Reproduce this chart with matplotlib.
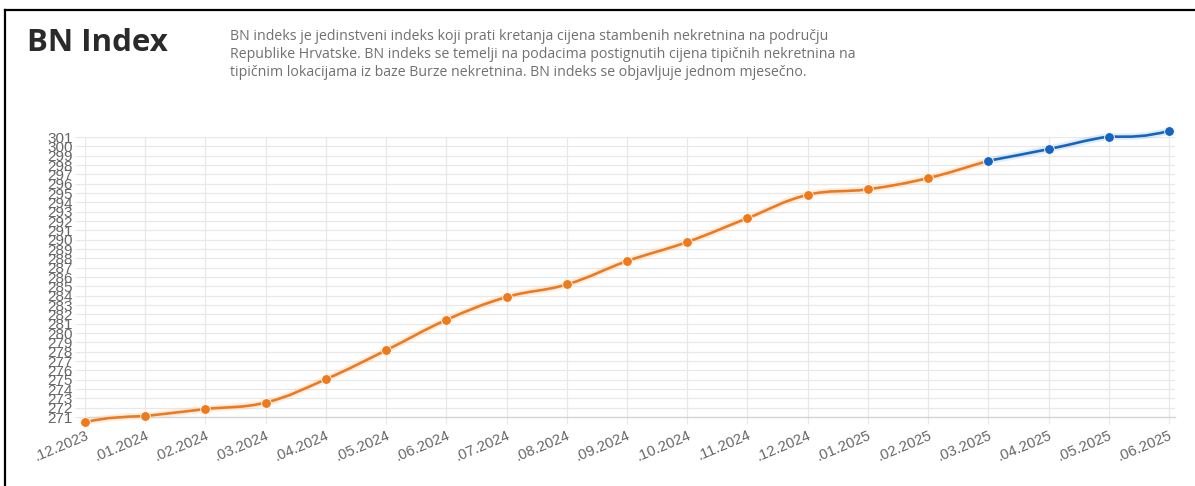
import numpy as np
import matplotlib
matplotlib.use("Agg")
import matplotlib.pyplot as plt
from matplotlib.path import Path
from matplotlib.patches import PathPatch
from matplotlib.lines import Line2D

# data
month_labels = [".12.2023", ".01.2024", ".02.2024", ".03.2024", ".04.2024", ".05.2024",
                ".06.2024", ".07.2024", ".08.2024", ".09.2024", ".10.2024", ".11.2024",
                ".12.2024", ".01.2025", ".02.2025", ".03.2025", ".04.2025", ".05.2025",
                ".06.2025"]
orange_values = [270.45, 271.1, 271.85, 272.55, 275.05, 278.15, 281.4, 283.85, 285.2,
                 287.7, 289.75, 292.3, 294.8, 295.4, 296.6, 298.45]
blue_values = [298.45, 299.7, 301.05, 301.65]
blue_start = 15

y_ticks = list(range(271, 302))

title_text = "BN Index"
desc_lines = [
    "BN indeks je jedinstveni indeks koji prati kretanja cijena stambenih nekretnina na području",
    "Republike Hrvatske. BN indeks se temelji na podacima postignutih cijena tipičnih nekretnina na",
    "tipičnim lokacijama iz baze Burze nekretnina. BN indeks se objavljuje jednom mjesečno.",
]

ORANGE = "#ef7a1c"
BLUE = "#1565c0"
GRID = "#e8e8e8"
TICKC = "#666666"

W, H = 1195, 486
fig = plt.figure(figsize=(W / 100, H / 100), dpi=100)
fig.patch.set_facecolor("white")

left, right = 85, 1175
top, bottom = 137, 417
ax = fig.add_axes([left / W, 1 - bottom / H, (right - left) / W, (bottom - top) / H])
ax.set_xlim(0, 18 + 6 / 60.2)
ax.set_ylim(271, 301)


def spline_path(xs, ys, tension=0.4):
    # Chart.js style bezier through the points, computed in pixel space
    pts = ax.transData.transform(np.column_stack([xs, ys]))
    ylo, yhi = ax.transData.transform([[0, 271], [0, 301]])[:, 1]
    n = len(pts)
    cp1 = pts.copy()
    cp2 = pts.copy()
    for i in range(n):
        prev = pts[i - 1] if i > 0 else pts[i]
        nxt = pts[i + 1] if i < n - 1 else pts[i]
        d01 = np.hypot(*(pts[i] - prev))
        d12 = np.hypot(*(nxt - pts[i]))
        s = d01 + d12
        s01 = d01 / s if s else 0
        s12 = d12 / s if s else 0
        cp1[i] = pts[i] - tension * s01 * (nxt - prev)
        cp2[i] = pts[i] + tension * s12 * (nxt - prev)
    cp1[:, 1] = np.clip(cp1[:, 1], ylo, yhi)
    cp2[:, 1] = np.clip(cp2[:, 1], ylo, yhi)
    verts = [pts[0]]
    codes = [Path.MOVETO]
    for i in range(1, n):
        verts += [cp2[i - 1], cp1[i], pts[i]]
        codes += [Path.CURVE4] * 3
    inv = ax.transData.inverted()
    return Path(inv.transform(np.array(verts)), codes)


x_orange = np.arange(len(orange_values))
x_blue = np.arange(blue_start, blue_start + len(blue_values))

for xs, ys, col in [(x_orange, orange_values, ORANGE), (x_blue, blue_values, BLUE)]:
    p = spline_path(xs, ys)
    ax.add_patch(PathPatch(p, facecolor="none", edgecolor=col, lw=5, alpha=0.12,
                           clip_on=False, zorder=2))
    ax.add_patch(PathPatch(p, facecolor="none", edgecolor=col, lw=1.9,
                           clip_on=False, zorder=3))
    ax.plot(xs, ys, ls="none", marker="o", ms=7, color=col, mec="white", mew=0.6,
            clip_on=False, zorder=4)

ax.set_xticks(range(len(month_labels)))
ax.set_xticklabels(month_labels, rotation=23, ha="right", rotation_mode="anchor",
                   fontsize=10.6, color=TICKC, family="Liberation Sans")
ax.set_yticks(y_ticks)
ax.set_yticklabels([str(v) for v in y_ticks], fontsize=11, color=TICKC,
                   family="Liberation Sans")
ax.tick_params(axis="x", length=5, color=GRID, pad=3)
ax.tick_params(axis="y", length=7.5, color=GRID, pad=1.5)
ax.grid(True, color=GRID, lw=0.9)
ax.set_axisbelow(True)
for side in ["top", "right", "left"]:
    ax.spines[side].set_visible(False)
ax.spines["bottom"].set_color("#d5d5d5")
ax.spines["bottom"].set_linewidth(1.0)

# header
fig.text(27 / W, 1 - 51 / H, title_text, fontsize=22.5, fontweight="bold",
         family="Open Sans", color="#2a2a2a", va="baseline")
for i, line in enumerate(desc_lines):
    fig.text(230 / W, 1 - (37 + 18 * i) / H, line, fontsize=10.2, family="Open Sans",
             color="#707070", va="center")

# page frame
fig.add_artist(Line2D([5 / W, 5 / W], [0, 1 - 10 / H], color="black", lw=1.6))
fig.add_artist(Line2D([5 / W, 1], [1 - 10 / H, 1 - 10 / H], color="black", lw=1.6))

fig.savefig("out.png", dpi=100)
